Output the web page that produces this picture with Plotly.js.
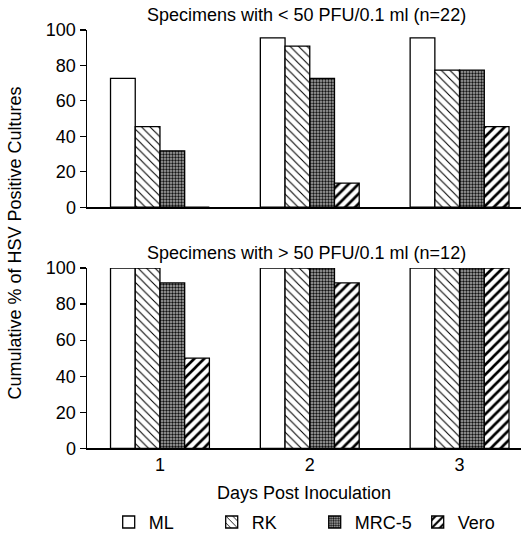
<!DOCTYPE html>
<html>
<head>
<meta charset="utf-8">
<script src="https://cdn.plot.ly/plotly-3.0.1.min.js"></script>
<style>html,body{margin:0;padding:0;background:#fff;}#chart{width:527px;height:541px;}</style>
</head>
<body>
<div id="chart"></div>
<script>
const days = [1, 2, 3];
const dayLabels = ['1', '2', '3'];
const seriesNames = ['ML', 'RK', 'MRC-5', 'Vero'];
// Specimens with < 50 PFU/0.1 ml (n=22)
const lowML   = [72.7, 95.5, 95.5];
const lowRK   = [45.5, 90.9, 77.3];
const lowMRC5 = [31.8, 72.7, 77.3];
const lowVero = [0, 13.6, 45.5];
// Specimens with > 50 PFU/0.1 ml (n=12)
const highML   = [100, 100, 100];
const highRK   = [100, 100, 100];
const highMRC5 = [91.7, 100, 100];
const highVero = [50, 91.7, 100];

const topTitle = 'Specimens with < 50 PFU/0.1 ml (n=22)';
const bottomTitle = 'Specimens with > 50 PFU/0.1 ml (n=12)';
const xTitle = 'Days Post Inoculation';
const yTitle = 'Cumulative % of HSV Positive Cultures';

const patterns = {
  'ML':    {shape: '', fgcolor: '#000', bgcolor: '#fff'},
  'RK':    {shape: '\\', fgcolor: '#000', bgcolor: '#fff', size: 6, solidity: 0.18},
  'MRC-5': {shape: '.', fgcolor: '#111', bgcolor: '#b0b0b0', size: 3, solidity: 0.5},
  'Vero':  {shape: '/', fgcolor: '#000', bgcolor: '#fff', size: 7, solidity: 0.38}
};

const low = [lowML, lowRK, lowMRC5, lowVero];
const high = [highML, highRK, highMRC5, highVero];

const traces = [];
seriesNames.forEach((n, i) => {
  traces.push({
    type: 'bar', x: days, y: low[i], name: n, xaxis: 'x', yaxis: 'y',
    legendgroup: n, showlegend: true, cliponaxis: false,
    marker: {color: '#fff', line: {color: '#000', width: 1.3}, pattern: patterns[n]}
  });
  traces.push({
    type: 'bar', x: days, y: high[i], name: n, xaxis: 'x2', yaxis: 'y2',
    legendgroup: n, showlegend: false, cliponaxis: false,
    marker: {color: '#fff', line: {color: '#000', width: 1.3}, pattern: patterns[n]}
  });
});

const F = 'Liberation Sans, Arial, Helvetica, sans-serif';
const FS = 18;
const FT = 18;
const yax = {
  range: [0, 100], tickvals: [0, 20, 40, 60, 80, 100], ticks: 'outside', ticklen: 6,
  tickwidth: 1.2, tickcolor: '#000', showline: true, linecolor: '#000', linewidth: 1.5,
  showgrid: false, zeroline: false, tickfont: {family: F, size: FS, color: '#000'}
};
const xax = {
  range: [0.513, 3.41], showline: true, linecolor: '#000', linewidth: 1.5, showgrid: false,
  zeroline: false, ticks: '', tickvals: days, ticktext: dayLabels
};

const layout = {
  width: 527, height: 541,
  margin: {l: 87, r: 6, t: 0, b: 0},
  paper_bgcolor: '#fff', plot_bgcolor: '#fff',
  font: {family: F, size: FS, color: '#000'},
  barmode: 'group', bargap: 0.34, bargroupgap: 0,
  xaxis: Object.assign({}, xax, {anchor: 'y', showticklabels: false}),
  xaxis2: Object.assign({}, xax, {anchor: 'y2', showticklabels: true, tickfont: {family: F, size: FS, color: '#000'}}),
  yaxis: Object.assign({}, yax, {domain: [0.6155, 0.9445], anchor: 'x'}),
  yaxis2: Object.assign({}, yax, {domain: [0.1682, 0.5028], anchor: 'x2'}),
  showlegend: true,
  legend: {orientation: 'h', x: 0.05, xanchor: 'left', y: 0.031, yanchor: 'middle',
           font: {family: F, size: FT, color: '#000'}, traceorder: 'normal', itemwidth: 30,
           entrywidth: 58, entrywidthmode: 'pixels'},
  annotations: [
    {text: topTitle, xref: 'paper', yref: 'paper', x: 0.505, y: 0.972, xanchor: 'center', yanchor: 'middle', showarrow: false, font: {size: FT}},
    {text: bottomTitle, xref: 'paper', yref: 'paper', x: 0.505, y: 0.5305, xanchor: 'center', yanchor: 'middle', showarrow: false, font: {size: FT}},
    {text: xTitle, xref: 'paper', yref: 'paper', x: 0.5, y: 0.086, xanchor: 'center', yanchor: 'middle', showarrow: false, font: {size: FT}},
    {text: yTitle, xref: 'paper', yref: 'paper', x: -0.166, y: 0.55, xanchor: 'center', yanchor: 'middle', textangle: -90, showarrow: false, font: {size: FT}}
  ]
};

Plotly.newPlot('chart', traces, layout, {displayModeBar: false, staticPlot: true});
</script>
</body>
</html>
